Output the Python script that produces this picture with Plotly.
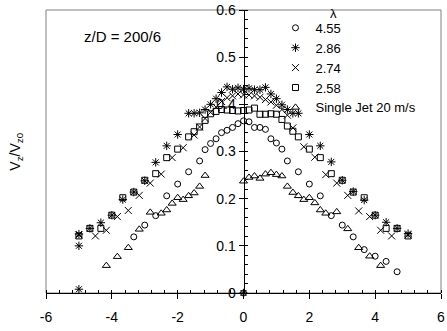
import plotly.graph_objects as go

# ---- data ----
circ_x = [-3.333, -3.0, -2.667, -2.333, -2.0, -1.667, -1.333, -1.167, -1.0, -0.833, -0.667, -0.5, -0.333, -0.167,
          0.0, 0.167, 0.333, 0.5, 0.667, 0.833, 1.0, 1.167, 1.333, 1.667, 2.0, 2.333, 2.667, 3.0, 3.333, 3.667,
          4.0, 4.333, 4.667, 0.0]
circ_y = [0.119, 0.144, 0.164, 0.206, 0.231, 0.257, 0.280, 0.304, 0.317, 0.327, 0.340, 0.345, 0.351, 0.359,
          0.365, 0.363, 0.351, 0.351, 0.347, 0.327, 0.318, 0.305, 0.280, 0.257, 0.231, 0.206, 0.164, 0.144, 0.119,
          0.092, 0.078, 0.067, 0.045, 0.0]

ast_x = [-5.0, -5.0, -5.0, -4.667, -4.333, -4.0, -3.667, -3.333, -3.0, -2.667, -2.333, -2.0, -1.667, -1.5, -1.333,
         -1.167, -1.0, -0.833, -0.667, -0.5, -0.333, -0.167, 0.0, 0.167, 0.333, 0.5, 0.667, 0.833, 1.0, 1.167,
         1.333, 1.5, 1.667, 2.0, 2.333, 2.667, 3.0, 3.333, 3.667, 4.0, 4.333, 4.667, 5.0, 0.0]
ast_y = [0.125, 0.100, 0.008, 0.137, 0.149, 0.165, 0.198, 0.214, 0.238, 0.277, 0.312, 0.336, 0.381, 0.381, 0.382,
         0.389, 0.400, 0.412, 0.425, 0.437, 0.432, 0.435, 0.432, 0.434, 0.431, 0.431, 0.436, 0.422, 0.412, 0.399,
         0.389, 0.381, 0.381, 0.336, 0.312, 0.278, 0.239, 0.215, 0.197, 0.165, 0.150, 0.137, 0.126, 0.0]

xm_x = [-5.0, -4.5, -4.167, -3.833, -3.5, -3.167, -2.833, -2.5, -2.167, -1.833, -1.5, -1.333, -1.167, -1.0, -0.833,
        -0.667, -0.5, -0.333, -0.167, 0.0, 0.167, 0.333, 0.5, 0.667, 0.833, 1.0, 1.167, 1.333, 1.5, 1.833, 2.167,
        2.5, 2.833, 3.167, 3.5, 3.833, 4.167, 4.5, 5.0]
xm_y = [0.123, 0.121, 0.133, 0.162, 0.175, 0.207, 0.233, 0.252, 0.287, 0.308, 0.335, 0.352, 0.370, 0.383, 0.394,
        0.406, 0.414, 0.418, 0.422, 0.420, 0.420, 0.418, 0.415, 0.410, 0.405, 0.398, 0.389, 0.377, 0.350, 0.310,
        0.288, 0.251, 0.233, 0.207, 0.174, 0.162, 0.133, 0.121, 0.123]

sq_x = [-5.0, -4.667, -4.333, -4.0, -3.667, -3.333, -3.0, -2.667, -2.333, -2.0, -1.667, -1.5, -1.333, -1.167, -1.0,
        -0.833, -0.667, -0.5, -0.333, -0.167, 0.0, 0.167, 0.333, 0.5, 0.667, 0.833, 1.0, 1.167, 1.333, 1.5, 1.667,
        2.0, 2.333, 2.667, 3.0, 3.333, 3.667, 4.0, 4.333, 4.667, 5.0]
sq_y = [0.121, 0.137, 0.137, 0.165, 0.202, 0.214, 0.239, 0.253, 0.287, 0.305, 0.331, 0.342, 0.352, 0.366, 0.380,
        0.385, 0.389, 0.388, 0.387, 0.386, 0.387, 0.388, 0.392, 0.379, 0.379, 0.380, 0.379, 0.368, 0.354, 0.343,
        0.331, 0.305, 0.287, 0.253, 0.239, 0.214, 0.202, 0.165, 0.137, 0.137, 0.121]

tri_x = [-4.167, -3.833, -3.5, -3.167, -2.833, -2.5, -2.333, -2.167, -2.0, -1.833, -1.667, -1.5, -1.333, -1.167,
         0.0, 0.167, 0.333, 0.5, 0.667, 0.833, 1.0, 1.167, 1.333, 1.5, 1.667, 1.833, 2.0, 2.167, 2.333, 2.5,
         2.833, 3.167, 3.5, 3.833, 4.167]
tri_y = [0.058, 0.077, 0.096, 0.135, 0.171, 0.169, 0.176, 0.190, 0.202, 0.198, 0.206, 0.212, 0.226, 0.249,
         0.237, 0.245, 0.248, 0.243, 0.252, 0.255, 0.251, 0.248, 0.226, 0.213, 0.206, 0.198, 0.202, 0.191, 0.176,
         0.169, 0.172, 0.136, 0.096, 0.078, 0.058]

series_names = ["4.55", "2.86", "2.74", "2.58", "Single Jet 20 m/s"]
x_tickvals = [-6, -4, -2, 0, 2, 4, 6]
x_ticktext = ["-6", "-4", "-2", "0", "2", "4", "6"]
y_tickvals = [0, 0.1, 0.2, 0.3, 0.4, 0.5, 0.6]
y_ticktext = ["0", "0.1", "0.2", "0.3", "0.4", "0.5", "0.6"]

FONT = "Liberation Sans, Arial, sans-serif"
BLACK = "#000000"

fig = go.Figure()
specs = [
    (circ_x, circ_y, series_names[0], "circle-open", 6),
    (ast_x, ast_y, series_names[1], "asterisk-open", 7),
    (xm_x, xm_y, series_names[2], "x-thin-open", 7),
    (sq_x, sq_y, series_names[3], "square-open", 6),
    (tri_x, tri_y, series_names[4], "triangle-up-open", 7),
]
for i, (xs, ys, nm, sym, sz) in enumerate(specs):
    fig.add_trace(go.Scatter(
        x=xs, y=ys, mode="markers", name=nm,
        marker=dict(symbol=sym, size=sz, color=BLACK, line=dict(color=BLACK, width=1)),
        cliponaxis=False,
    ))

fig.update_layout(
    width=447, height=331,
    margin=dict(l=46, r=2, t=7, b=38),
    paper_bgcolor="white", plot_bgcolor="white",
    font=dict(family=FONT, size=13, color=BLACK),
    showlegend=True,
    legend=dict(
        x=0.581, y=0.99, xanchor="left", yanchor="top",
        bgcolor="rgba(0,0,0,0)", borderwidth=0,
        font=dict(family=FONT, size=13, color=BLACK),
        tracegroupgap=0, itemwidth=30,
    ),
    xaxis=dict(
        range=[-6, 6.0001], tickvals=x_tickvals, ticktext=x_ticktext,
        showgrid=False, zeroline=False, showline=True, linecolor=BLACK, linewidth=1,
        ticks="outside", ticklen=5, tickcolor=BLACK, tickfont=dict(size=14),
        ticklabelstandoff=6, ticklabeloverflow="allow",
        minor=dict(dtick=0.4, ticks="inside", ticklen=3, tickcolor=BLACK, showgrid=False),
    ),
    yaxis=dict(
        range=[0, 0.60001], tickvals=y_tickvals, ticktext=y_ticktext,
        anchor="free", position=0.5,
        showgrid=False, zeroline=False, showline=True, linecolor=BLACK, linewidth=1,
        ticks="outside", ticklen=5, tickcolor=BLACK, tickfont=dict(size=14),
        ticklabeloverflow="allow",
        minor=dict(dtick=0.02, ticks="inside", ticklen=3, tickcolor=BLACK, showgrid=False),
    ),
    shapes=[dict(type="rect", xref="x domain", yref="y domain", x0=0, x1=1, y0=0, y1=1,
                 line=dict(color="#808080", width=1), layer="below")],
    annotations=[
        dict(text="z/D = 200/6", xref="x domain", yref="y domain", x=0.09, y=0.905,
             xanchor="left", yanchor="middle", showarrow=False, font=dict(size=15)),
        dict(text="λ", xref="paper", yref="paper", x=0.727, y=0.988,
             xanchor="center", yanchor="middle", showarrow=False, font=dict(size=13)),
        dict(text="V<sub>z</sub>/V<sub>z0</sub>", xref="paper", yref="paper", x=-0.078, y=0.5,
             xanchor="center", yanchor="middle", textangle=-90, showarrow=False, font=dict(size=14)),
    ],
)

fig.write_html("out.html")
